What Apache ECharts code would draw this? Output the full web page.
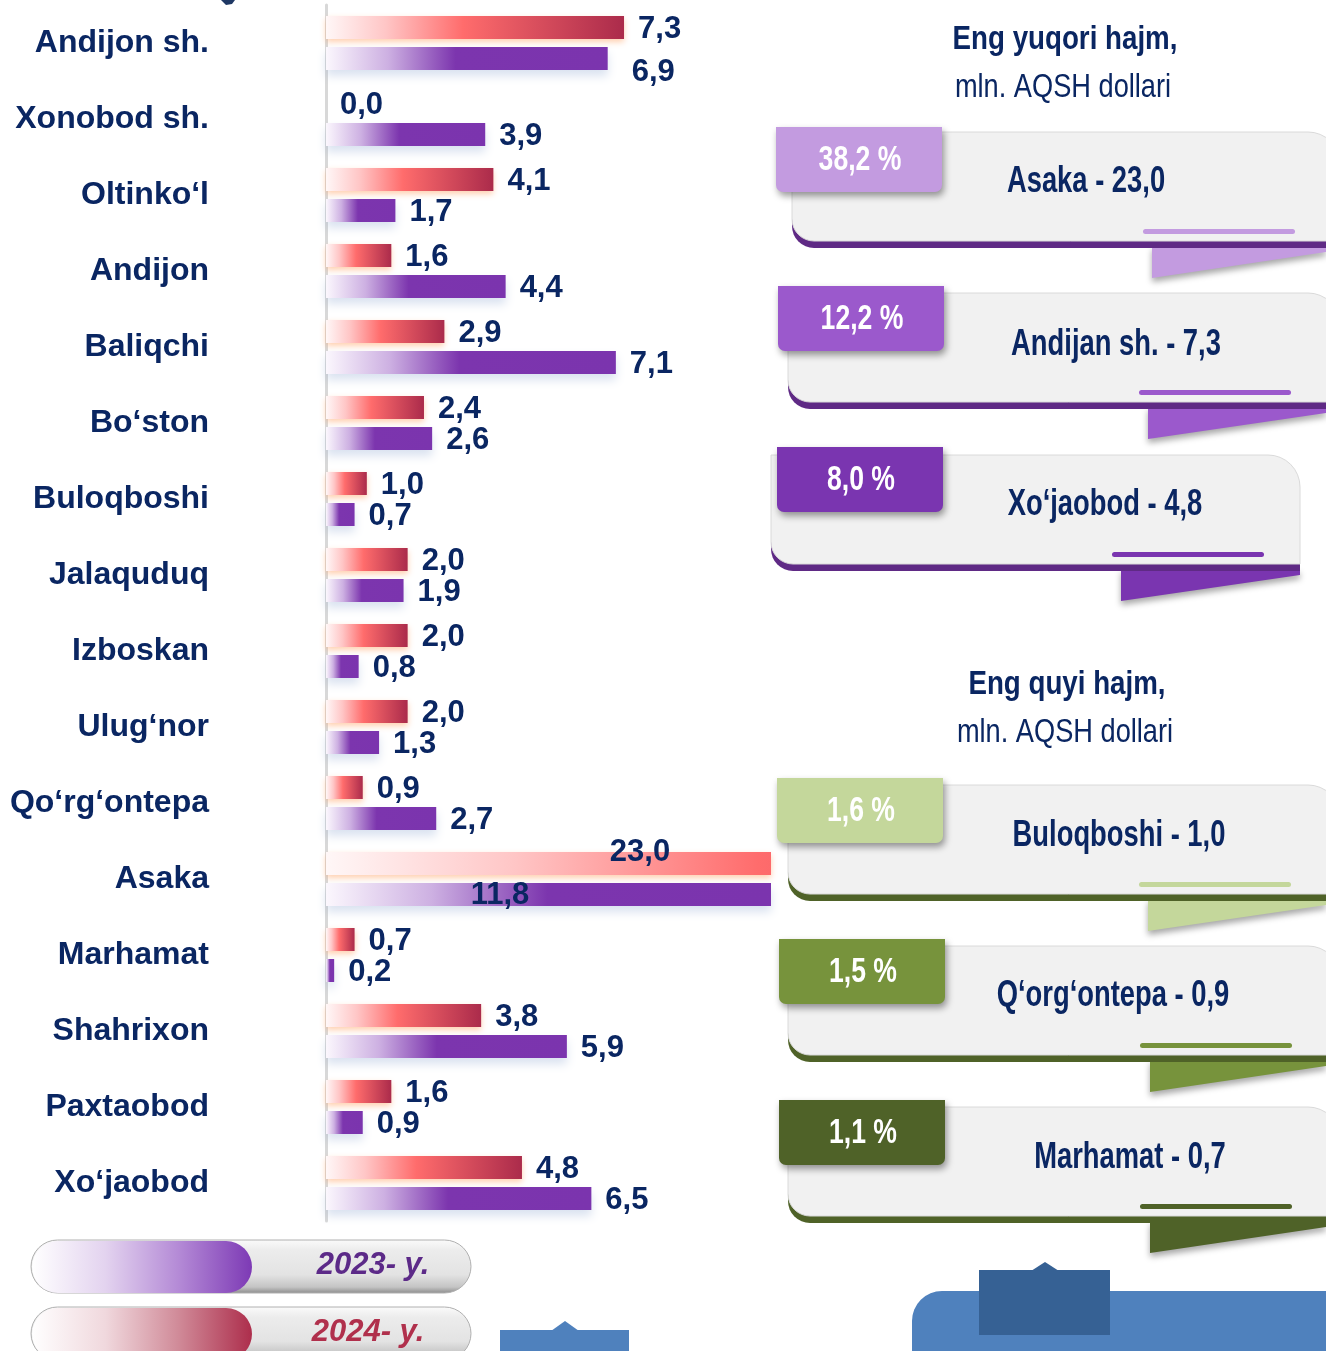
<!DOCTYPE html>
<html>
<head>
<meta charset="utf-8">
<script src="https://cdn.jsdelivr.net/npm/echarts@6/dist/echarts.min.js"></script>
<style>
  html, body { margin: 0; padding: 0; background: #ffffff; }
  #chart { width: 1326px; height: 1351px; }
</style>
</head>
<body>
<div id="chart"></div>
<script>
// Export volume by district, mln. USD
const districts = ['Andijon sh.', 'Xonobod sh.', 'Oltinko‘l', 'Andijon', 'Baliqchi', 'Bo‘ston', 'Buloqboshi', 'Jalaquduq', 'Izboskan', 'Ulug‘nor', 'Qo‘rg‘ontepa', 'Asaka', 'Marhamat', 'Shahrixon', 'Paxtaobod', 'Xo‘jaobod'];
const values2024 = [7.3, 0.0, 4.1, 1.6, 2.9, 2.4, 1.0, 2.0, 2.0, 2.0, 0.9, 23.0, 0.7, 3.8, 1.6, 4.8];
const values2023 = [6.9, 3.9, 1.7, 4.4, 7.1, 2.6, 0.7, 1.9, 0.8, 1.3, 2.7, 11.8, 0.2, 5.9, 0.9, 6.5];
const seriesNames = ['2024- y.', '2023- y.'];
const axisMax = 10.9;

// Side panel: largest and smallest volumes
const panelTitles = ['Eng yuqori hajm,', 'Eng quyi hajm,'];
const unitText = 'mln. AQSH dollari';
const topNames = ['Asaka', 'Andijan sh.', 'Xo‘jaobod'];
const topValues = [23.0, 7.3, 4.8];
const topShares = [38.2, 12.2, 8.0];
const bottomNames = ['Buloqboshi', 'Q‘org‘ontepa', 'Marhamat'];
const bottomValues = [1.0, 0.9, 0.7];
const bottomShares = [1.6, 1.5, 1.1];

const NAVY = '#0a2662';
const FONT = "'Liberation Sans', Arial, sans-serif";
const fmt = v => v.toFixed(1).replace('.', ',');

const redStops = [[0, '#fff7f7'], [0.2, '#ffc6c6'], [0.46, '#ff6c6c'], [1, '#ab2b4b']];
const purpleStops = [[0, '#fbf7fd'], [0.22, '#cdb0e2'], [0.46, '#7c35ae'], [1, '#7b34ae']];

function hexToRgb(h) {
  const n = parseInt(h.slice(1), 16);
  return [(n >> 16) & 255, (n >> 8) & 255, n & 255];
}
function mix(a, b, t) {
  const A = hexToRgb(a), B = hexToRgb(b);
  return 'rgb(' + A.map((x, i) => Math.round(x + (B[i] - x) * t)).join(',') + ')';
}
// Bars longer than the axis are cut at the plot edge; the gradient keeps
// the proportions of the full-length bar.
function barGradient(stops, value) {
  const f = value > axisMax ? axisMax / value : 1;
  const out = [];
  for (let i = 0; i < stops.length; i++) {
    const [p, c] = stops[i];
    if (p <= f) {
      out.push({ offset: p / f, color: c });
    } else {
      const [p0, c0] = stops[i - 1];
      out.push({ offset: 1, color: mix(c0, c, (f - p0) / (p - p0)) });
      break;
    }
  }
  return new echarts.graphic.LinearGradient(0, 0, 1, 0, out);
}

const valueLabel = {
  show: true, position: 'right', distance: 14, offset: [0, 2],
  formatter: p => fmt(p.value),
  color: NAVY, fontSize: 31, fontWeight: 'bold', fontFamily: FONT
};

function barData(values, stops, insidePos, extraLabels) {
  return values.map((v, i) => {
    const item = { value: v, itemStyle: { color: barGradient(stops, v) } };
    if (v > axisMax) {
      item.label = { position: insidePos, align: 'center', verticalAlign: 'middle', offset: [0, 0] };
    } else if (extraLabels[i]) {
      item.label = extraLabels[i];
    }
    return item;
  });
}

// ---- side panel cards ----
const cardLayout = [
  { tab: [776, 127], body: [792, 132, 1340], text: [1086, 182], accent: 1143, ribbon: [1152, 1326] },
  { tab: [778, 286], body: [788, 293, 1340], text: [1116, 345], accent: 1139, ribbon: [1148, 1326] },
  { tab: [777, 447], body: [771, 455, 1300], text: [1105, 505], accent: 1112, ribbon: [1121, 1300] },
  { tab: [777, 778], body: [788, 785, 1340], text: [1119, 836], accent: 1139, ribbon: [1148, 1326] },
  { tab: [779, 939], body: [788, 946, 1340], text: [1113, 996], accent: 1140, ribbon: [1150, 1326] },
  { tab: [779, 1100], body: [788, 1107, 1340], text: [1130, 1158], accent: 1140, ribbon: [1150, 1326] }
];
const tabColors = ['#c39be0', '#9b59cc', '#7a35b0', '#c4d79b', '#77933c', '#4f6228'];
const edgeColors = ['#5f2a85', '#5f2a85', '#5f2a85', '#4f6228', '#4f6228', '#4f6228'];

const cardNames = topNames.concat(bottomNames);
const cardValues = topValues.concat(bottomValues);
const cardShares = topShares.concat(bottomShares);

const BODY_H = 109, EDGE = 7;
const graphics = [];

cardLayout.forEach((L, i) => {
  const [bx, by, br] = L.body;
  const bottom = by + BODY_H + EDGE;
  // folded ribbon under the card
  graphics.push({
    type: 'polygon',
    shape: { points: [[L.ribbon[0], bottom - 2], [L.ribbon[1], bottom - 2], [L.ribbon[1], bottom + 4], [L.ribbon[0], bottom + 30]] },
    style: { fill: tabColors[i], shadowBlur: 6, shadowOffsetY: 4, shadowColor: 'rgba(0,0,0,0.35)' }
  });
  // dark lower edge
  graphics.push({
    type: 'rect',
    shape: { x: bx, y: by + EDGE, width: br - bx, height: BODY_H, r: [0, 32, 0, 22] },
    style: { fill: edgeColors[i] }
  });
  // card body
  graphics.push({
    type: 'rect',
    shape: { x: bx, y: by, width: br - bx, height: BODY_H, r: [0, 32, 0, 22] },
    style: { fill: '#f1f1f1', stroke: '#dadada', lineWidth: 1 }
  });
  // accent stroke
  graphics.push({
    type: 'rect',
    shape: { x: L.accent, y: by + 97, width: 152, height: 5, r: 2.5 },
    style: { fill: tabColors[i] }
  });
  // percentage tab
  graphics.push({
    type: 'rect',
    shape: { x: L.tab[0], y: L.tab[1], width: 166, height: 65, r: [0, 0, 7, 7] },
    style: { fill: tabColors[i], shadowBlur: 7, shadowOffsetX: 2, shadowOffsetY: 4, shadowColor: 'rgba(0,0,0,0.4)' }
  });
  graphics.push({
    type: 'text', x: L.tab[0] + 84, y: L.tab[1] + 33, scaleX: 0.76,
    style: { text: fmt(cardShares[i]) + ' %', fill: '#ffffff', font: 'bold 35px ' + FONT, align: 'center', verticalAlign: 'middle' }
  });
  graphics.push({
    type: 'text', x: L.text[0], y: L.text[1], scaleX: 0.76,
    style: { text: cardNames[i] + ' - ' + fmt(cardValues[i]), fill: NAVY, font: 'bold 36px ' + FONT, align: 'center', verticalAlign: 'middle' }
  });
});

// panel headings
[[1065, 40, 88], [1067, 685, 733]].forEach((pos, i) => {
  graphics.push({
    type: 'text', x: pos[0], y: pos[1], scaleX: 0.84,
    style: { text: panelTitles[i], fill: NAVY, font: 'bold 33px ' + FONT, align: 'center', verticalAlign: 'middle' }
  });
  graphics.push({
    type: 'text', x: pos[0] - 2, y: pos[2], scaleX: 0.8,
    style: { text: unitText, fill: NAVY, font: '34px ' + FONT, align: 'center', verticalAlign: 'middle' }
  });
});

// legend pills
function pill(y, name, colors, textColor, textX) {
  graphics.push({
    type: 'rect',
    shape: { x: 31, y: y, width: 440, height: 53, r: 26.5 },
    style: {
      fill: new echarts.graphic.LinearGradient(0, 0, 0, 1, [
        { offset: 0, color: '#fbfbfb' }, { offset: 0.2, color: '#ececec' },
        { offset: 0.65, color: '#e3e3e3' }, { offset: 0.88, color: '#c4c4c4' }, { offset: 1, color: '#8a8a8a' }
      ]),
      stroke: '#b0b0b0', lineWidth: 1
    }
  });
  graphics.push({
    type: 'rect',
    shape: { x: 32, y: y + 1, width: 220, height: 52, r: 26 },
    style: {
      fill: new echarts.graphic.LinearGradient(0, 0, 1, 0, colors.map((c, k) => ({ offset: k / (colors.length - 1), color: c })))
    }
  });
  graphics.push({
    type: 'text', x: textX, y: y + 25,
    style: { text: name, fill: textColor, font: 'italic bold 31px ' + FONT, align: 'center', verticalAlign: 'middle' }
  });
}
pill(1240, seriesNames[1], ['#ffffff', '#e3d3ef', '#b48ad6', '#7d3ab5'], '#5c2a88', 373);
pill(1307, seriesNames[0], ['#ffffff', '#f0d8dd', '#d08a98', '#ad2e4c'], '#b0304c', 368);

// blue blocks at the lower edge
graphics.push({ type: 'rect', shape: { x: 912, y: 1291, width: 440, height: 90, r: [30, 0, 0, 0] }, style: { fill: '#4f81bd' } });
graphics.push({ type: 'rect', shape: { x: 979, y: 1270, width: 131, height: 65 }, style: { fill: '#366194' } });
graphics.push({ type: 'polygon', shape: { points: [[1031, 1271], [1045, 1262], [1059, 1271]] }, style: { fill: '#366194' } });
graphics.push({ type: 'rect', shape: { x: 500, y: 1330, width: 129, height: 30 }, style: { fill: '#4f81bd' } });
graphics.push({ type: 'polygon', shape: { points: [[551, 1331], [565, 1321], [579, 1331]] }, style: { fill: '#4f81bd' } });
graphics.push({ type: 'polygon', shape: { points: [[221, 0], [235, 0], [232, 4], [226, 5]] }, style: { fill: '#1f3864' } });

const chart = echarts.init(document.getElementById('chart'), null, { renderer: 'canvas' });
chart.setOption({
  animation: false,
  backgroundColor: '#ffffff',
  grid: { left: 326, top: 5, width: 445, height: 1216, containLabel: false },
  xAxis: { type: 'value', min: 0, max: axisMax, show: false },
  yAxis: {
    type: 'category', data: districts, inverse: true,
    axisLine: { show: true, lineStyle: { color: '#d8d8d8', width: 3 } },
    axisTick: { show: false },
    axisLabel: { margin: 117, padding: [4, 0, 0, 0], color: NAVY, fontSize: 32, fontWeight: 'bold', fontFamily: FONT }
  },
  series: [
    {
      name: seriesNames[0], type: 'bar', barWidth: 23, barGap: '35%',
      data: barData(values2024, redStops, [314, 0], {}),
      itemStyle: { shadowColor: 'rgba(255,150,80,0.45)', shadowBlur: 6, shadowOffsetY: 3 },
      label: valueLabel
    },
    {
      name: seriesNames[1], type: 'bar', barWidth: 23, barGap: '35%',
      data: barData(values2023, purpleStops, [174, 12], { 0: { offset: [10, 14] } }),
      itemStyle: { shadowColor: 'rgba(120,150,200,0.28)', shadowBlur: 10, shadowOffsetY: 6 },
      label: valueLabel
    }
  ],
  graphic: { elements: graphics }
});
</script>
</body>
</html>
